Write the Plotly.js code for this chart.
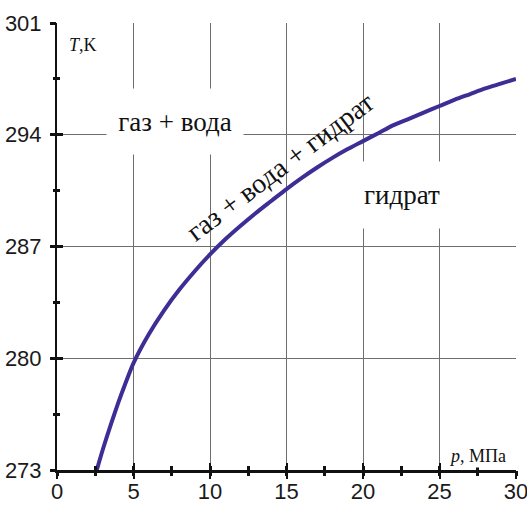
<!DOCTYPE html>
<html>
<head>
<meta charset="utf-8">
<script src="https://cdn.plot.ly/plotly-3.0.1.min.js"></script>
<style>html,body{margin:0;padding:0;background:#fff;}#chart{width:527px;height:505px;}</style>
</head>
<body>
<div id="chart"></div>
<script>
// Equilibrium curve of hydrate formation: pressure p (MPa) vs temperature T (K)
const pressure = [2.6, 3.0, 3.5, 4.0, 4.5, 5.0, 6.0, 7.0, 8.0, 9.0, 10.0, 11.0, 12.0, 13.0, 14.0, 15.0,
                  16.0, 17.0, 18.0, 19.0, 20.0, 21.0, 22.0, 23.0, 24.0, 25.0, 26.0, 27.0, 28.0, 29.0, 30.0];
const temperature = [273.0, 274.3, 275.8, 277.2, 278.5, 279.7, 281.5, 283.0, 284.3, 285.45, 286.5, 287.45, 288.3, 289.1, 289.85, 290.6,
                     291.3, 291.95, 292.55, 293.1, 293.6, 294.1, 294.6, 295.0, 295.4, 295.8, 296.2, 296.55, 296.9, 297.2, 297.5];
const xTicks = [0, 5, 10, 15, 20, 25, 30];
const yTicks = [273, 280, 287, 294, 301];
const regionLabels = ['газ + вода', 'гидрат', 'газ + вода + гидрат'];
const axisLabels = ['<i>T</i>,K', '<i>p</i>, МПа'];

const tickFont = {family: "'Liberation Sans', Arial, sans-serif", size: 22, color: '#1a1a1a'};
const serif = "'Liberation Serif', 'Times New Roman', serif";

const traces = [
  {x: pressure, y: temperature, type: 'scatter', mode: 'lines',
   line: {color: '#3d2e96', width: 4, shape: 'spline', smoothing: 0.8}, hoverinfo: 'skip', showlegend: false},
  {x: [xTicks[0]], y: [yTicks[0]], xaxis: 'x2', yaxis: 'y2', type: 'scatter', mode: 'markers',
   marker: {opacity: 0}, hoverinfo: 'skip', showlegend: false}
];

const layout = {
  width: 527, height: 505,
  margin: {l: 57, r: 11, t: 23, b: 35, pad: 0},
  paper_bgcolor: '#fff', plot_bgcolor: '#fff',
  showlegend: false,
  xaxis: {
    range: [0, 30], tickvals: xTicks, ticktext: xTicks.map(String),
    ticks: 'inside', ticklen: 7, tickwidth: 2, tickcolor: '#111',
    minor: {dtick: 2.5, ticks: 'inside', ticklen: 4, tickwidth: 3, tickcolor: '#111', showgrid: false},
    showline: true, linecolor: '#111', linewidth: 3,
    showgrid: true, gridcolor: '#6e6e6e', gridwidth: 1,
    zeroline: false, tickfont: tickFont, ticklabeloverflow: 'allow', fixedrange: true
  },
  yaxis: {
    range: [273, 301], tickvals: yTicks, ticktext: yTicks.map(String),
    ticks: 'inside', ticklen: 6, tickwidth: 3, tickcolor: '#111',
    minor: {dtick: 3.5, ticks: 'inside', ticklen: 3, tickwidth: 3, tickcolor: '#111', showgrid: false},
    showline: true, linecolor: '#111', linewidth: 2,
    showgrid: true, gridcolor: '#6e6e6e', gridwidth: 1,
    zeroline: false, tickfont: tickFont, ticklabelstandoff: 9, ticklabeloverflow: 'allow', fixedrange: true
  },
  xaxis2: {
    overlaying: 'x', anchor: 'y2', range: [0, 30], tickvals: xTicks, showticklabels: false,
    ticks: 'outside', ticklen: 8, tickwidth: 2, tickcolor: '#111',
    minor: {dtick: 2.5, ticks: 'outside', ticklen: 5, tickwidth: 3, tickcolor: '#111', showgrid: false},
    showgrid: false, showline: false, zeroline: false, fixedrange: true
  },
  yaxis2: {
    overlaying: 'y', anchor: 'x2', range: [273, 301], tickvals: yTicks, showticklabels: false,
    ticks: 'outside', ticklen: 6, tickwidth: 3, tickcolor: '#111',
    minor: {dtick: 3.5, ticks: 'outside', ticklen: 3, tickwidth: 3, tickcolor: '#111', showgrid: false},
    showgrid: false, showline: false, zeroline: false, fixedrange: true
  },
  annotations: [
    {text: regionLabels[0], x: 7.71, y: 294.8, xref: 'x', yref: 'y', showarrow: false,
     font: {family: serif, size: 27, color: '#111'}, bgcolor: '#fff', width: 134, height: 63},
    {text: regionLabels[1], x: 22.55, y: 290.2, xref: 'x', yref: 'y', showarrow: false,
     font: {family: serif, size: 27, color: '#111'}, bgcolor: '#fff', width: 118, height: 64},
    {text: regionLabels[2], x: 14.6, y: 292.0, xref: 'x', yref: 'y', showarrow: false,
     textangle: -37, font: {family: serif, size: 28, color: '#111'}},
    {text: axisLabels[0], x: 1.7, y: 299.6, xref: 'x', yref: 'y', showarrow: false,
     font: {family: serif, size: 18, color: '#111'}, bgcolor: '#fff'},
    {text: axisLabels[1], x: 27.5, y: 273.85, xref: 'x', yref: 'y', showarrow: false,
     font: {family: serif, size: 18, color: '#111'}, bgcolor: '#fff'}
  ]
};

Plotly.newPlot('chart', traces, layout, {displayModeBar: false, staticPlot: true});
</script>
</body>
</html>
